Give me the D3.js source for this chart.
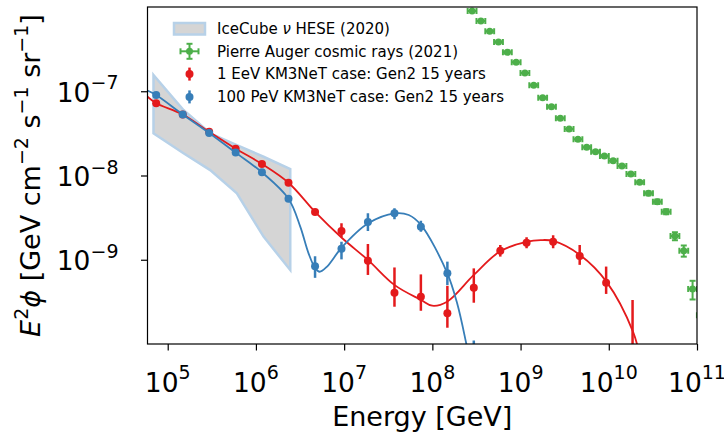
<!DOCTYPE html>
<html lang="en">
<head>
<meta charset="UTF-8">
<title>Neutrino flux projections</title>
<script src="https://d3js.org/d3.v7.min.js"></script>
<style>
  body { margin: 0; background: #fff; }
  svg text { font-family: "DejaVu Sans", sans-serif; fill: #000; }
</style>
</head>
<body>
<svg id="chart" width="724" height="432"></svg>
<script>
// ---- data ----
// IceCube HESE (2020) band
const heseE     = [6.9e4, 1.51e5, 3.03e5, 6.08e5, 1.22e6, 2.45e6];
const heseUpper = [1.56e-7, 5.98e-8, 3.17e-8, 2.30e-8, 1.67e-8, 1.19e-8];
const heseLower = [3.17e-8, 1.84e-8, 1.16e-8, 6.15e-9, 1.88e-9, 7.55e-10];

// Pierre Auger cosmic rays (2021)
const augerE = [2.82e8, 3.55e8, 4.47e8, 5.62e8, 7.08e8, 8.91e8, 1.12e9, 1.41e9, 1.78e9,
                2.24e9, 2.82e9, 3.55e9, 4.47e9, 5.62e9, 7.08e9, 8.91e9, 1.12e10, 1.41e10,
                1.78e10, 2.24e10, 2.82e10, 3.55e10, 4.47e10, 5.62e10, 7.08e10, 8.91e10, 1.12e11];
const augerFlux = [8.97e-7, 6.83e-7, 5.15e-7, 3.85e-7, 2.90e-7, 2.21e-7, 1.65e-7, 1.18e-7, 8.38e-8,
                   6.56e-8, 4.78e-8, 3.56e-8, 2.69e-8, 2.16e-8, 1.92e-8, 1.70e-8, 1.50e-8, 1.30e-8,
                   1.04e-8, 8.30e-9, 6.15e-9, 4.89e-9, 3.72e-9, 1.91e-9, 1.28e-9, 4.50e-10, 2.2e-10];
const augerRelErr = [0.03, 0.03, 0.03, 0.03, 0.03, 0.03, 0.03, 0.03, 0.03,
                     0.03, 0.03, 0.03, 0.03, 0.03, 0.03, 0.03, 0.03, 0.03,
                     0.04, 0.04, 0.05, 0.06, 0.07, 0.11, 0.15, 0.25, 0.4];
const augerHalfBinDex = 0.05;

// binned KM3NeT-case projections (Gen2, 15 years)
const binE = [7.4e4, 1.48e5, 2.95e5, 5.89e5, 1.17e6, 2.34e6, 4.68e6, 9.33e6, 1.86e7, 3.72e7,
              7.41e7, 1.48e8, 2.95e8, 5.89e8, 1.17e9, 2.34e9, 4.68e9, 9.33e9, 1.86e10];

const eevFlux = [7.2e-8, 5.3e-8, 3.3e-8, 2.08e-8, 1.37e-8, 8.2e-9, 3.7e-9, 2.2e-9, 9.75e-10, 4.07e-10,
                 3.64e-10, 2.31e-10, 4.66e-10, 1.28e-9, 1.59e-9, 1.64e-9, 1.11e-9, 5.35e-10, 5e-11];
const eevLo   = [6.9e-8, 5.05e-8, 3.15e-8, 1.98e-8, 1.3e-8, 7.8e-9, 3.4e-9, 1.85e-9, 6.6e-10, 2.77e-10,
                 2.48e-10, 1.56e-10, 3.09e-10, 1.09e-9, 1.37e-9, 1.37e-9, 8.7e-10, 3.93e-10, 1e-11];
const eevHi   = [7.5e-8, 5.55e-8, 3.45e-8, 2.18e-8, 1.44e-8, 8.6e-9, 4.0e-9, 2.71e-9, 1.54e-9, 8.1e-10,
                 6.7e-10, 4.9e-10, 7.9e-10, 1.5e-9, 1.85e-9, 1.95e-9, 1.5e-9, 8.3e-10, 3.33e-10];

const pevFlux = [9.0e-8, 5.3e-8, 3.2e-8, 1.87e-8, 1.09e-8, 5.3e-9, 8.4e-10, 1.35e-9, 2.8e-9, 3.56e-9,
                 2.47e-9, 6.9e-10, 4e-11];
const pevLo   = [8.6e-8, 5.05e-8, 3.05e-8, 1.78e-8, 1.04e-8, 5.05e-9, 6.1e-10, 1.01e-9, 2.19e-9, 3.02e-9,
                 2.15e-9, 5.0e-10, 1e-11];
const pevHi   = [9.4e-8, 5.55e-8, 3.35e-8, 1.96e-8, 1.14e-8, 5.55e-9, 1.10e-9, 1.64e-9, 3.56e-9, 4.08e-9,
                 2.91e-9, 9.5e-10, 1.1e-10];

// model curves
const eevModelE = [5.9e4, 7.4e4, 1.48e5, 2.95e5, 5.89e5, 1.17e6, 2.34e6, 4.68e6, 9.46e6, 1.87e7, 3.74e7,
                   7.46e7, 9.95e7, 1.47e8, 2.95e8, 5.82e8, 1.19e9, 1.69e9, 2.35e9, 4.71e9, 9.4e9, 1.88e10, 2.3e10];
const eevModelF = [8.6e-8, 7.2e-8, 5.3e-8, 3.3e-8, 2.08e-8, 1.37e-8, 8.2e-9, 3.7e-9, 1.81e-9, 9.9e-10, 5.0e-10,
                   3.33e-10, 2.85e-10, 3.18e-10, 6.6e-10, 1.25e-9, 1.64e-9, 1.71e-9, 1.67e-9, 1.14e-9, 5.5e-10, 1.4e-10, 6.5e-11];

const pevModelE = [5.89e4, 7.4e4, 1.48e5, 2.95e5, 5.89e5, 1.17e6, 2.34e6, 3.18e6, 3.95e6, 4.71e6, 5.27e6,
                   6.4e6, 9.46e6, 1.87e7, 3.74e7, 5.4e7, 7.46e7, 1.47e8, 1.91e8, 2.42e8, 3.09e8];
const pevModelF = [1.02e-7, 9.0e-8, 5.3e-8, 3.2e-8, 1.87e-8, 1.09e-8, 5.3e-9, 2.47e-9, 1.19e-9, 7.9e-10, 7.2e-10,
                   8.3e-10, 1.41e-9, 2.71e-9, 3.56e-9, 3.4e-9, 2.58e-9, 7.0e-10, 3.04e-10, 1.02e-10, 2.8e-11];

const xTickExps = [5, 6, 7, 8, 9, 10, 11];
const yTickExps = [-9, -8, -7];
const legendLabels = ["IceCube \u03bd HESE (2020)", "Pierre Auger cosmic rays (2021)",
                      "1 EeV KM3NeT case: Gen2 15 years", "100 PeV KM3NeT case: Gen2 15 years"];

// ---- chart ----
const RED = "#e41a1c", BLUE = "#377eb8", GREEN = "#4daf4a";
const plot = { left: 147.5, right: 697, top: 7, bottom: 344 };

const svg = d3.select("#chart");
const x = d3.scaleLog().domain([5.9e4, 1e11]).range([plot.left, plot.right]);
const y = d3.scaleLog().domain([1e-10, 1e-6]).range([plot.bottom, plot.top]);

svg.append("defs").append("clipPath").attr("id", "clip")
  .append("rect")
  .attr("x", plot.left).attr("y", plot.top)
  .attr("width", plot.right - plot.left).attr("height", plot.bottom - plot.top);

const g = svg.append("g").attr("clip-path", "url(#clip)");

// HESE band
const hese = heseE.map((e, i) => ({ e, lo: heseLower[i], hi: heseUpper[i] }));
g.append("path")
  .datum(hese)
  .attr("d", d3.area().x(d => x(d.e)).y0(d => y(d.lo)).y1(d => y(d.hi)))
  .attr("fill", "#d5d5d5")
  .attr("stroke", "#b7d1e8")
  .attr("stroke-width", 2.5)
  .attr("stroke-linejoin", "miter");

// Auger points
const auger = augerE.map((e, i) => ({ e, v: augerFlux[i], r: augerRelErr[i] }));
const ag = g.append("g").attr("stroke", GREEN).attr("stroke-width", 2);
auger.forEach(d => {
  const cx = x(d.e), cy = y(d.v);
  const xl = x(d.e / Math.pow(10, augerHalfBinDex)), xr = x(d.e * Math.pow(10, augerHalfBinDex));
  const yt = y(d.v * (1 + d.r)), yb = y(d.v * (1 - d.r));
  ag.append("line").attr("x1", xl).attr("x2", xr).attr("y1", cy).attr("y2", cy);
  ag.append("line").attr("x1", xl).attr("x2", xl).attr("y1", cy - 3).attr("y2", cy + 3);
  ag.append("line").attr("x1", xr).attr("x2", xr).attr("y1", cy - 3).attr("y2", cy + 3);
  ag.append("line").attr("x1", cx).attr("x2", cx).attr("y1", yt).attr("y2", yb);
  ag.append("line").attr("x1", cx - 3).attr("x2", cx + 3).attr("y1", yt).attr("y2", yt);
  ag.append("line").attr("x1", cx - 3).attr("x2", cx + 3).attr("y1", yb).attr("y2", yb);
  ag.append("circle").attr("cx", cx).attr("cy", cy).attr("r", 3.5).attr("fill", GREEN).attr("stroke", "none");
});

const curve = d3.line().x(d => x(d[0])).y(d => y(d[1])).curve(d3.curveCatmullRom.alpha(0.5));

function drawCase(modelE, modelF, flux, lo, hi, color) {
  g.append("path")
    .datum(modelE.map((e, i) => [e, modelF[i]]))
    .attr("d", curve)
    .attr("fill", "none")
    .attr("stroke", color)
    .attr("stroke-width", 1.8);
  const pts = flux.map((v, i) => ({ e: binE[i], v, lo: lo[i], hi: hi[i] }));
  const pg = g.append("g");
  pg.selectAll("line").data(pts).join("line")
    .attr("x1", d => x(d.e)).attr("x2", d => x(d.e))
    .attr("y1", d => y(d.lo)).attr("y2", d => y(d.hi))
    .attr("stroke", color).attr("stroke-width", 2.5);
  pg.selectAll("circle").data(pts).join("circle")
    .attr("cx", d => x(d.e)).attr("cy", d => y(d.v)).attr("r", 4)
    .attr("fill", color);
}
drawCase(eevModelE, eevModelF, eevFlux, eevLo, eevHi, RED);
drawCase(pevModelE, pevModelF, pevFlux, pevLo, pevHi, BLUE);

// axes
const fontSize = 26.5, supSize = 19;
const xAxis = svg.append("g")
  .attr("transform", `translate(0,${plot.bottom})`)
  .call(d3.axisBottom(x).tickValues(xTickExps.map(p => Math.pow(10, p))).tickSize(6.5).tickFormat(""));
const yAxis = svg.append("g")
  .attr("transform", `translate(${plot.left},0)`)
  .call(d3.axisLeft(y).tickValues(yTickExps.map(p => Math.pow(10, p))).tickSize(6.5).tickFormat(""));
[xAxis, yAxis].forEach(a => {
  a.select(".domain").remove();
  a.selectAll(".tick line").attr("stroke", "#000").attr("stroke-width", 1.2);
});

function powLabel(sel, exp) {
  sel.append("tspan").text("10");
  sel.append("tspan").attr("dy", -12.4).attr("font-size", supSize)
    .text(exp < 0 ? "\u2212" + (-exp) : String(exp));
}

xTickExps.forEach(p => {
  const t = svg.append("text")
    .attr("x", x(Math.pow(10, p))).attr("y", 391.7)
    .attr("text-anchor", "middle").attr("font-size", fontSize);
  powLabel(t, p);
});
yTickExps.forEach(p => {
  const t = svg.append("text")
    .attr("x", 118.5).attr("y", y(Math.pow(10, p)) + 10.5)
    .attr("text-anchor", "end").attr("font-size", fontSize);
  powLabel(t, p);
});

// frame
svg.append("rect")
  .attr("x", plot.left).attr("y", plot.top)
  .attr("width", plot.right - plot.left).attr("height", plot.bottom - plot.top)
  .attr("fill", "none").attr("stroke", "#000").attr("stroke-width", 1.2);

// axis labels
svg.append("text")
  .attr("x", (plot.left + plot.right) / 2).attr("y", 426)
  .attr("text-anchor", "middle").attr("font-size", 27)
  .text("Energy [GeV]");

const yl = svg.append("text")
  .attr("transform", `translate(40,${(plot.top + plot.bottom) / 2}) rotate(-90)`)
  .attr("text-anchor", "middle").attr("font-size", 27);
yl.append("tspan").attr("font-style", "italic").text("E");
yl.append("tspan").attr("dy", -12).attr("font-size", supSize).text("2");
yl.append("tspan").attr("dy", 12).attr("font-style", "italic").text("\u03d5");
yl.append("tspan").text(" [GeV cm");
yl.append("tspan").attr("dy", -12).attr("font-size", supSize).text("\u22122");
yl.append("tspan").attr("dy", 12).text(" s");
yl.append("tspan").attr("dy", -12).attr("font-size", supSize).text("\u22121");
yl.append("tspan").attr("dy", 12).text(" sr");
yl.append("tspan").attr("dy", -12).attr("font-size", supSize).text("\u22121");
yl.append("tspan").attr("dy", 12).text("]");

// legend
const lg = svg.append("g");
const rowY = i => 28.5 + 22.8 * i;
const hx = 189.5;
legendLabels.forEach((lab, i) => {
  const t = lg.append("text").attr("x", 217).attr("y", rowY(i) + 5.3).attr("font-size", 15);
  if (i === 0) {
    t.append("tspan").text("IceCube ");
    t.append("tspan").attr("font-style", "italic").text("\u03bd");
    t.append("tspan").text(" HESE (2020)");
  } else {
    t.text(lab);
  }
});
lg.append("rect").attr("x", 174).attr("y", rowY(0) - 5.5).attr("width", 31).attr("height", 11.5)
  .attr("fill", "#d5d5d5").attr("stroke", "#b7d1e8").attr("stroke-width", 2.5);
const gy = rowY(1);
const gl = lg.append("g").attr("stroke", GREEN).attr("stroke-width", 2);
gl.append("line").attr("x1", hx - 9).attr("x2", hx + 9).attr("y1", gy).attr("y2", gy);
gl.append("line").attr("x1", hx - 9).attr("x2", hx - 9).attr("y1", gy - 3).attr("y2", gy + 3);
gl.append("line").attr("x1", hx + 9).attr("x2", hx + 9).attr("y1", gy - 3).attr("y2", gy + 3);
gl.append("line").attr("x1", hx).attr("x2", hx).attr("y1", gy - 7.5).attr("y2", gy + 7.5);
gl.append("line").attr("x1", hx - 3).attr("x2", hx + 3).attr("y1", gy - 7.5).attr("y2", gy - 7.5);
gl.append("line").attr("x1", hx - 3).attr("x2", hx + 3).attr("y1", gy + 7.5).attr("y2", gy + 7.5);
gl.append("circle").attr("cx", hx).attr("cy", gy).attr("r", 3.5).attr("fill", GREEN).attr("stroke", "none");
[[RED, 2], [BLUE, 3]].forEach(([c, i]) => {
  const cy = rowY(i);
  lg.append("line").attr("x1", hx).attr("x2", hx).attr("y1", cy - 6.5).attr("y2", cy + 6.5)
    .attr("stroke", c).attr("stroke-width", 2.5);
  lg.append("circle").attr("cx", hx).attr("cy", cy).attr("r", 4).attr("fill", c);
});
</script>
</body>
</html>
